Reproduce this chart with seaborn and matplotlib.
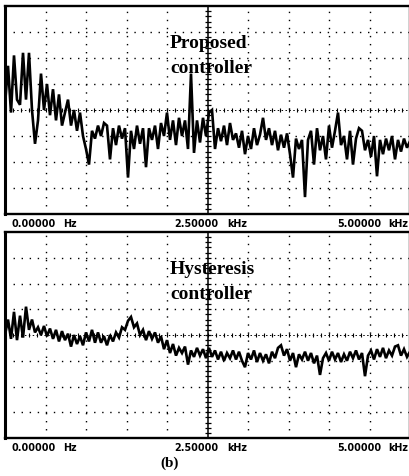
import numpy as np
import pandas as pd
import matplotlib
matplotlib.use("Agg")
import matplotlib.pyplot as plt
import seaborn as sns

# ---- data (levels in screen divisions, 0 = bottom, 8 = top) ----
proposed_levels = [
    4.2, 5.7, 3.9, 6.1, 4.4, 4.2, 6.2, 4.4, 6.2, 4.0, 2.7, 3.6, 5.4, 4.0, 5.0, 3.8,
    4.8, 3.6, 4.6, 3.4, 3.9, 4.4, 3.4, 4.0, 3.2, 3.9, 3.0, 2.5, 1.9, 3.2, 2.9, 3.4,
    3.0, 3.5, 3.4, 2.1, 3.3, 2.65, 3.4, 2.9, 3.3, 1.4, 3.2, 2.5, 3.4, 2.7, 3.3, 1.8,
    3.3, 2.85, 3.4, 2.5, 3.5, 3.0, 3.9, 2.85, 3.6, 2.65, 3.7, 3.0, 3.6, 2.5, 5.4, 2.35,
    3.6, 2.75, 3.7, 3.0, 3.9, 4.0, 2.5, 3.3, 2.8, 3.4, 2.65, 3.5, 2.85, 3.1, 2.55, 3.2,
    2.3, 3.0, 2.5, 3.3, 2.65, 3.05, 3.7, 2.85, 3.3, 2.65, 3.2, 2.45, 3.05, 2.55, 3.1, 2.3,
    1.4, 2.9, 2.5, 2.85, 0.65, 2.85, 3.2, 1.9, 3.3, 2.45, 3.0, 2.1, 3.4, 2.55, 3.2, 3.9,
    2.65, 3.0, 2.1, 3.2, 1.9, 2.9, 3.3, 3.2, 2.45, 2.85, 2.2, 3.0, 1.45, 2.85, 2.3, 2.9,
    2.45, 3.0, 2.1, 2.85, 2.4, 2.9, 2.55, 2.8,
]
hysteresis_levels = [
    4.0, 4.6, 3.85, 4.9, 3.8, 4.75, 3.9, 5.1, 4.2, 4.6, 4.1, 4.3, 4.0, 4.35, 3.95, 4.25,
    3.85, 4.2, 3.75, 4.15, 3.8, 4.05, 3.55, 4.0, 3.65, 3.95, 3.6, 4.1, 3.75, 4.2, 3.7, 4.1,
    3.7, 3.95, 3.6, 4.0, 3.75, 4.1, 3.9, 4.3, 4.2, 4.55, 4.7, 4.3, 4.45, 4.0, 4.2, 3.8,
    4.15, 3.85, 4.1, 3.7, 3.95, 3.45, 3.8, 3.3, 3.65, 3.2, 3.5, 3.3, 3.55, 2.85, 3.4, 3.15,
    3.5, 3.2, 3.45, 3.1, 3.5, 3.15, 3.4, 3.05, 3.35, 3.0, 3.3, 3.1, 3.4, 3.05, 3.35, 3.0,
    2.75, 3.3, 3.05, 3.4, 2.95, 3.3, 3.0, 3.25, 2.9, 3.35, 3.1, 3.5, 3.6, 3.2, 3.45, 3.0,
    3.3, 2.75, 3.25, 3.05, 3.35, 3.0, 3.3, 2.9, 3.2, 2.45, 3.1, 3.3, 3.0, 3.35, 3.05, 3.3,
    2.95, 3.25, 3.0, 3.35, 3.1, 3.4, 3.05, 3.3, 2.4, 3.2, 3.4, 3.05, 3.45, 3.15, 3.5, 3.1,
    3.4, 3.2, 3.55, 3.6, 3.2, 3.45, 3.15, 3.35,
]
span_khz = [0.0, 5.0]
freq_labels = ["0.00000", "Hz", "2.50000", "kHz", "5.00000", "kHz"]
panel_titles = [["Proposed", "controller"], ["Hysteresis", "controller"]]
caption = "(b)"

sns.set_theme(style="white")
plt.rcParams["font.family"] = ["DejaVu Sans"]

W, H = 409, 476
fig = plt.figure(figsize=(W / 100, H / 100), dpi=100)
fig.patch.set_facecolor("white")


def fx(px):
    return px / W


def fy(py):
    return 1 - py / H


panels = [
    (6, 214, proposed_levels),
    (232, 438, hysteresis_levels),
]

dot = (0, (1.0, 4.8))
for i, (top, bot, levels) in enumerate(panels):
    ax = fig.add_axes([fx(5), fy(bot), fx(410) - fx(5), fy(top) - fy(bot)])
    ax.set_facecolor("white")
    ax.set_xlim(span_khz)
    ax.set_ylim(0, 8)
    ax.set_xticks([])
    ax.set_yticks([])
    for s in ax.spines.values():
        s.set_color("black")
        s.set_linewidth(1.7)
    ax.spines["left"].set_linewidth(2.2)
    # graticule
    for v in np.arange(0.5, 5.0, 0.5):
        if abs(v - 2.5) < 1e-6:
            continue
        ax.axvline(v, color="black", lw=1.0, ls=dot, zorder=1)
    for h in range(1, 8):
        if h == 4:
            continue
        ax.axhline(h, color="black", lw=1.0, ls=dot, zorder=1)
    # centre cross
    ax.axvline(2.5, color="black", lw=1.1, zorder=1)
    yt = np.arange(0.2, 8.0, 0.2)
    ax.plot(np.full_like(yt, 2.5), yt, ls="none", marker="_", ms=4.5,
            mew=0.9, color="black", zorder=1)
    ax.axhline(4, color="black", lw=0.7, ls=(0, (1.5, 2.5)), zorder=1)
    xt = np.arange(0.1, 5.0, 0.1)
    ax.plot(xt, np.full_like(xt, 4.0), ls="none", marker="|", ms=3,
            mew=0.8, color="black", zorder=1)

    df = pd.DataFrame({"freq": np.linspace(span_khz[0], span_khz[1], len(levels)),
                       "level": levels})
    sns.lineplot(data=df, x="freq", y="level", ax=ax, color="black",
                 lw=1.9, sort=False, zorder=3)
    for ln in ax.lines[-1:]:
        ln.set_solid_joinstyle("miter")
    ax.set_xlabel("")
    ax.set_ylabel("")

    # title text
    t1, t2 = panel_titles[i]
    base = top + 42
    fig.text(fx(170), fy(base), t1, family="Liberation Serif", fontsize=14,
             fontweight="bold", color="black", ha="left", va="baseline")
    fig.text(fx(170), fy(base + 25), t2, family="Liberation Serif", fontsize=14,
             fontweight="bold", color="black", ha="left", va="baseline")

    # frequency labels under panel
    ly = bot + 10
    kw = dict(family="DejaVu Sans", fontweight="bold", fontsize=6.9,
              color="black", va="center")
    fig.text(fx(12), fy(ly), freq_labels[0], ha="left", **kw)
    fig.text(fx(63), fy(ly), freq_labels[1], ha="left", **kw)
    fig.text(fx(174), fy(ly), freq_labels[2], ha="left", **kw)
    fig.text(fx(227), fy(ly), freq_labels[3], ha="left", **kw)
    fig.text(fx(337), fy(ly), freq_labels[4], ha="left", **kw)
    fig.text(fx(408), fy(ly), freq_labels[5], ha="right", **kw)

fig.text(fx(170), fy(463), caption, family="Liberation Serif", fontweight="bold",
         fontsize=11, color="black", ha="center", va="center")

fig.savefig("out.png", dpi=100, facecolor="white")
